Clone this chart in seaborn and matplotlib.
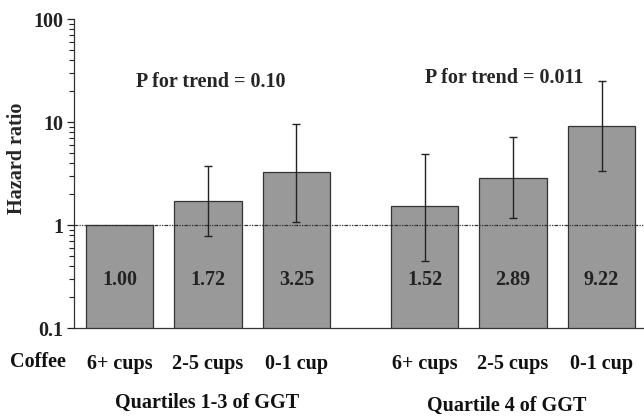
import matplotlib
matplotlib.use("Agg")
import matplotlib.pyplot as plt
import seaborn as sns
import pandas as pd
import numpy as np

# Hazard ratios by coffee intake within GGT strata
coffee = ["6+ cups", "2-5 cups", "0-1 cup", "6+ cups", "2-5 cups", "0-1 cup"]
positions = [0, 1, 2, 3.45, 4.45, 5.45]
hazard = [1.00, 1.72, 3.25, 1.52, 2.89, 9.22]
ci_low = [1.00, 0.78, 1.07, 0.45, 1.17, 3.36]
ci_high = [1.00, 3.73, 9.6, 4.9, 7.2, 25.3]
groups = ["Quartiles 1-3 of GGT", "Quartile 4 of GGT"]
trend = ["P for trend = 0.10", "P for trend = 0.011"]
yticks = [0.1, 1, 10, 100]
ytick_labels = ["0.1", "1", "10", "100"]

df = pd.DataFrame({"pos": positions, "hr": hazard})

sns.set_style("white")
plt.rcParams["font.family"] = ["Liberation Serif", "DejaVu Serif"]
plt.rcParams["font.weight"] = "bold"

FS = 14.5
fig = plt.figure(figsize=(6.44, 4.16), dpi=100)
ax = fig.add_axes([0.115, 0.2115, 0.885, 0.7425])

sns.barplot(data=df, x="pos", y="hr", native_scale=True, width=0.76,
            color="#999999", saturation=1, edgecolor="#333333", linewidth=0.9,
            errorbar=None, ax=ax)
ax.set_yscale("log")
ax.set_ylim(0.1, 100)
ax.set_xlim(-0.514, 5.93)

# confidence intervals (first category is the reference, no interval)
for p, h, lo, hi in zip(positions[1:], hazard[1:], ci_low[1:], ci_high[1:]):
    ax.errorbar(p, h, yerr=[[h - lo], [hi - h]], fmt="none", ecolor="#222222",
                elinewidth=1.0, capsize=2.8, capthick=1.0, zorder=4)

# reference line at HR = 1
ax.axhline(1, color="#333333", linewidth=0.9, linestyle=(0, (3, 1, 1, 1, 1, 1)), zorder=3)

# value labels inside the bars
for p, h in zip(positions, hazard):
    ax.text(p, 0.29, f"{h:.2f}", ha="center", va="center", fontsize=FS,
            fontweight="bold", color="#222222", zorder=5)

# P for trend annotations
ax.text(1.03, 24.4, trend[0], ha="center", va="center", fontsize=FS, fontweight="bold")
ax.text(4.35, 26.7, trend[1], ha="center", va="center", fontsize=FS, fontweight="bold")

ax.set_yticks(yticks)
ax.set_yticklabels(ytick_labels)
ax.yaxis.set_minor_locator(matplotlib.ticker.LogLocator(base=10, subs=np.arange(2, 10)))
ax.yaxis.set_minor_formatter(matplotlib.ticker.NullFormatter())
ax.tick_params(axis="y", which="major", direction="out", length=5, width=0.9,
               labelsize=FS, left=True, pad=3, colors="#222222")
ax.tick_params(axis="y", which="minor", direction="out", length=3.5, width=0.8, left=True,
               colors="#222222")
ax.set_xticks(positions)
ax.set_xticklabels(coffee)
ax.tick_params(axis="x", length=0, labelsize=FS, pad=19, colors="#111111")
for lbl in ax.get_xticklabels() + ax.get_yticklabels():
    lbl.set_fontweight("bold")

ax.set_xlabel("")
ax.set_ylabel("Hazard ratio", fontsize=FS, fontweight="bold")
ax.yaxis.set_label_coords(-0.083, 0.55)

for side in ["top", "right"]:
    ax.spines[side].set_visible(False)
for side in ["left", "bottom"]:
    ax.spines[side].set_color("#333333")
    ax.spines[side].set_linewidth(0.9)

fig.text(38 / 644, 1 - 362 / 416, "Coffee", ha="center", va="center",
         fontsize=FS, fontweight="bold", color="#111111")
fig.text(207 / 644, 1 - 403 / 416, groups[0], ha="center", va="center",
         fontsize=FS, fontweight="bold", color="#111111")
fig.text(507 / 644, 1 - 406 / 416, groups[1], ha="center", va="center",
         fontsize=FS, fontweight="bold", color="#111111")

fig.savefig("out.png", dpi=100)
